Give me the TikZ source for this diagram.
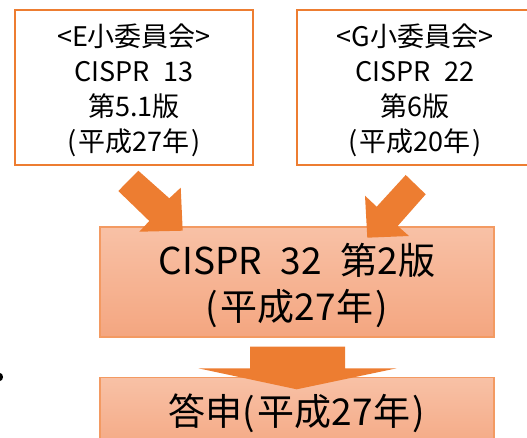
\documentclass[tikz,border=0pt]{standalone}
\usepackage{fontspec}
\setmainfont{Noto Sans CJK JP}
\definecolor{acc}{HTML}{ED7D31}
\definecolor{boxline}{HTML}{F39A62}
\definecolor{filltop}{HTML}{F8C1A6}
\definecolor{fillbot}{HTML}{F4A680}
\begin{document}
\begin{tikzpicture}[x=1pt,y=-1pt,
  topbox/.style={draw=acc, line width=2.2pt, fill=white, inner sep=0pt},
  toptext/.style={align=center, font=\fontsize{27}{35}\selectfont, inner sep=0pt},
  midbox/.style={draw=boxline, line width=1.4pt, top color=filltop,
    bottom color=fillbot, inner sep=0pt},
  bigtext/.style={font=\fontsize{37}{46}\selectfont, align=center, inner sep=0pt},
  blockarrow/.style={fill=acc}]
\useasboundingbox (0,0) rectangle (527,438);
\clip (0,0) rectangle (527,438);
% top boxes
\node[topbox, minimum width=238pt, minimum height=155pt] (e) at (134,87.5) {};
\node[toptext] (et) at (134,90.5)
  {<E小委員会>\\CISPR\hspace{.5em}13\\第5.1版\\(\hspace{.08em}平成27年\hspace{.08em})};
\node[topbox, minimum width=236pt, minimum height=155pt] (g) at (415,87.5) {};
\node[toptext] (gt) at (415,90.5)
  {<G小委員会>\\CISPR\hspace{.5em}22\\第6版\\(\hspace{.08em}平成20年\hspace{.08em})};
% middle box
\node[midbox, minimum width=394pt, minimum height=110pt] (m) at (297,282) {};
\node[bigtext] (mt) at (297,285)
  {CISPR\hspace{.5em}32\hspace{.5em}第2版\\(\hspace{.08em}平成27年\hspace{.08em})};
% bottom box
\node[midbox, minimum width=394pt, minimum height=80pt, anchor=north] (b) at (297,377) {};
\node[bigtext] (bt) at (297,413) {答申(\hspace{.08em}平成27年\hspace{.08em})};
% block arrows
\fill[blockarrow] (118.3,191) -- (138.3,170.7) -- (169.3,198.3) -- (180.7,187.7)
  -- (182.7,230.7) -- (139.3,231.7) -- (149.3,221) -- cycle;
\fill[blockarrow] (405.7,175) -- (425.7,194.3) -- (397.7,226) -- (409,236)
  -- (367.3,237.7) -- (365,195.7) -- (376.7,206.7) -- cycle;
\fill[blockarrow] (250,346.7) -- (345,346.7) -- (345,368.3) -- (396.7,368.3)
  -- (296.7,389.3) -- (198.3,368.3) -- (250,368.3) -- cycle;
% cut-off mark at left edge
\fill (0,377) ellipse (3 and 4);
\end{tikzpicture}
\end{document}
